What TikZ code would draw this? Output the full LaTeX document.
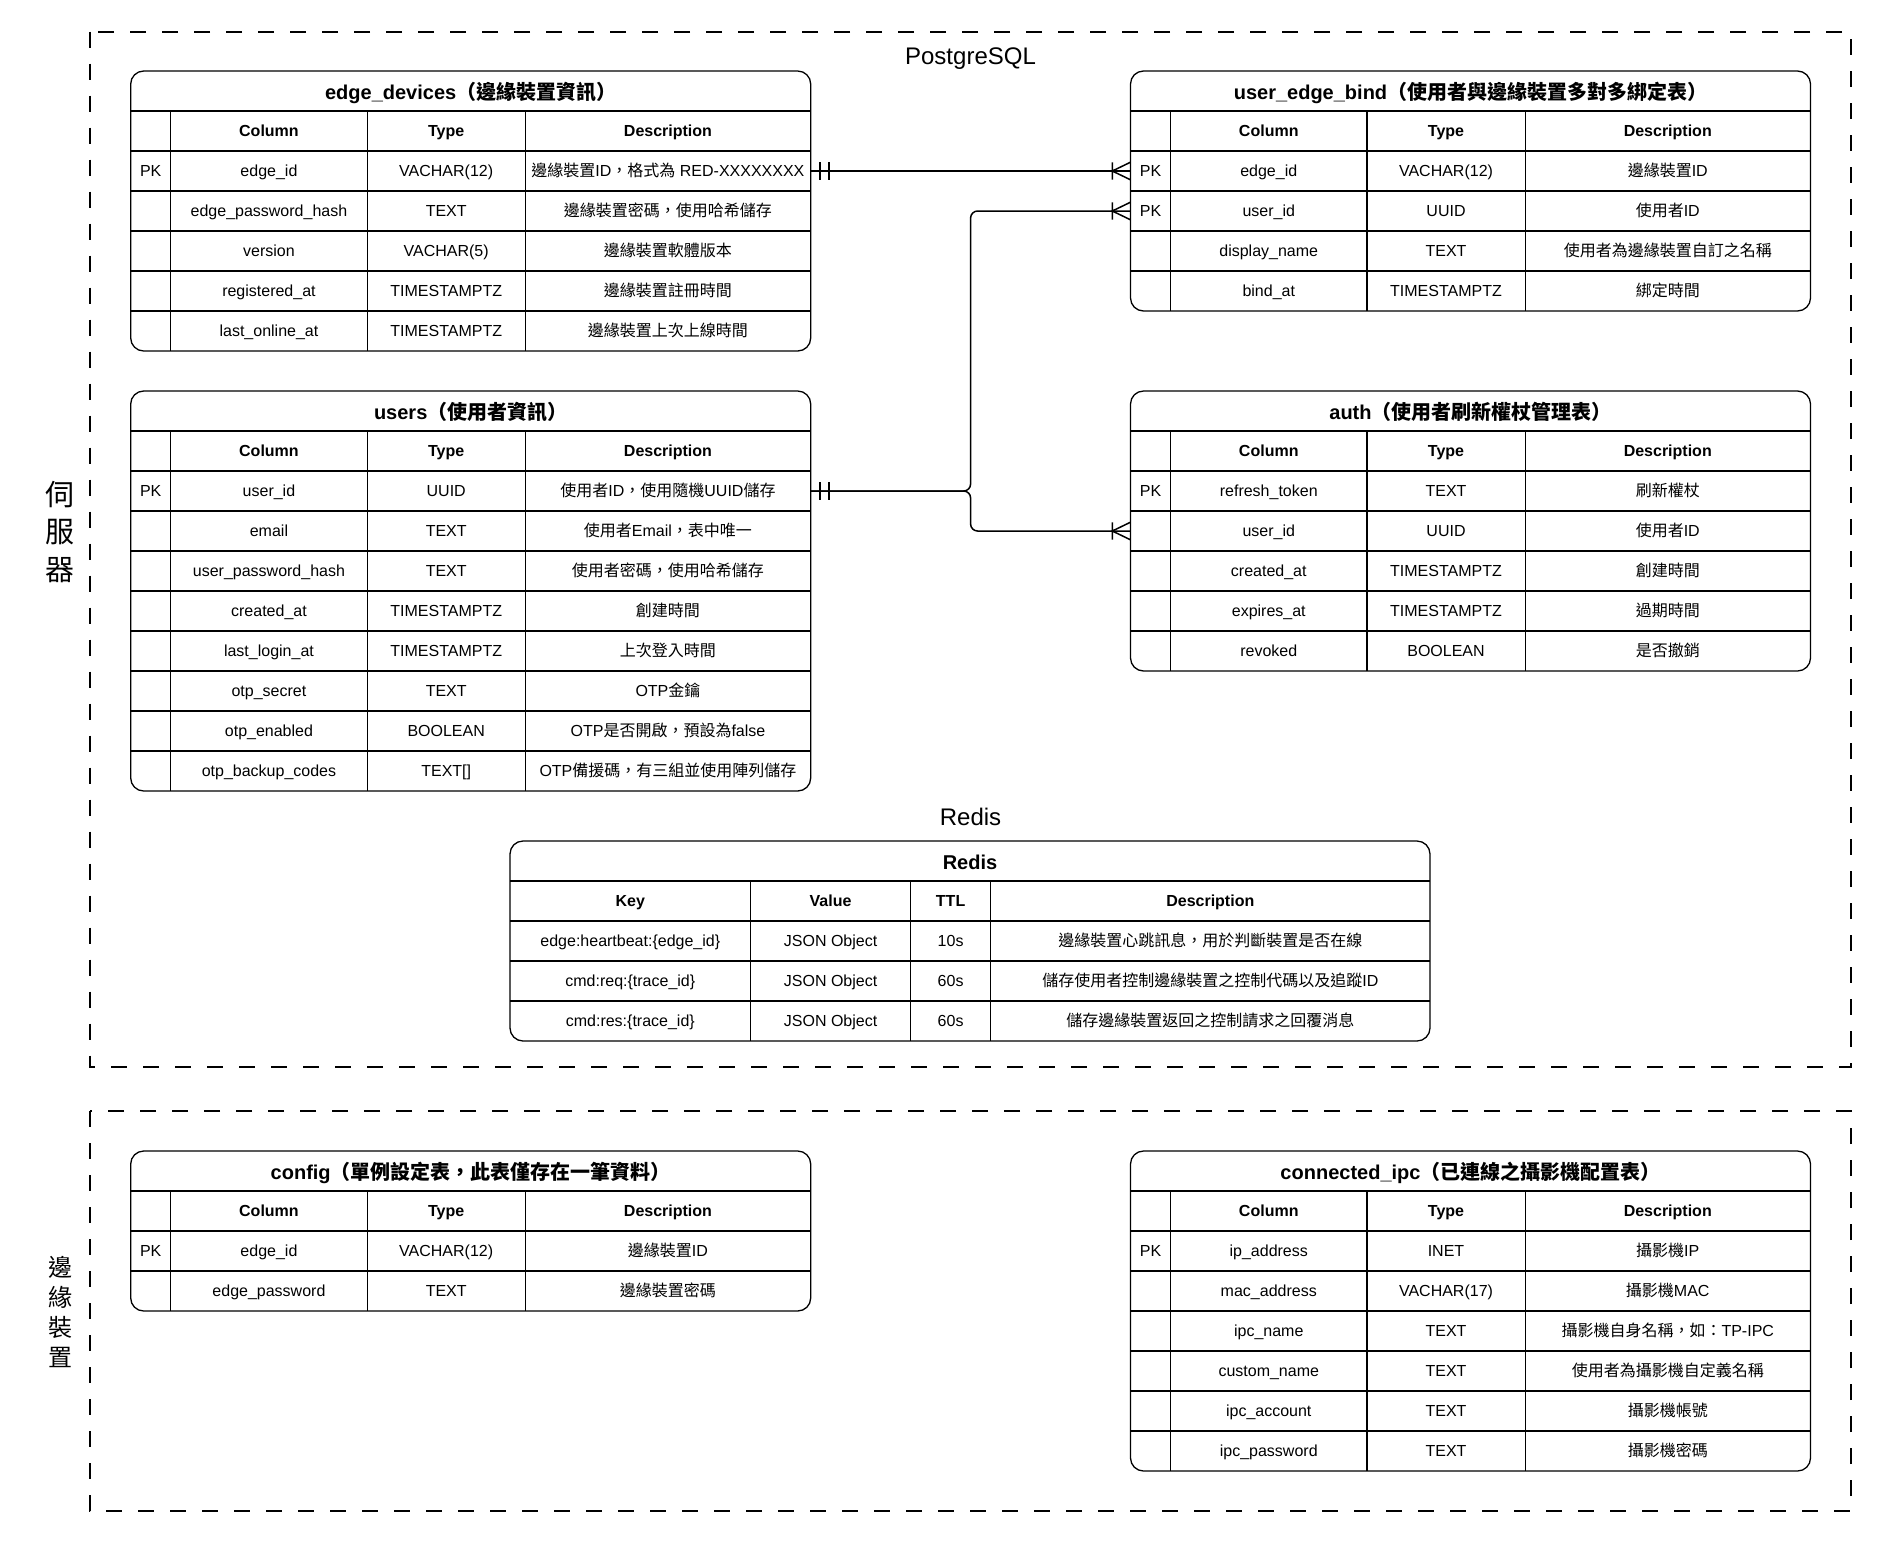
\documentclass[tikz,border=0pt]{standalone}
\usepackage{fontspec}
\setmainfont{Liberation Sans}
\newfontfamily\cjkfont{Noto Sans CJK TC}
\usetikzlibrary{calc}

% switch to the CJK font for CJK characters
\XeTeXinterchartokenstate=1
\newXeTeXintercharclass\cjkclass
\newcount\cjkcode
\newcommand\setcjkrange[2]{%
  \cjkcode=#1\relax
  \loop
    \XeTeXcharclass\cjkcode=\cjkclass
    \advance\cjkcode by 1\relax
  \ifnum\cjkcode<#2\relax\repeat}
\setcjkrange{"3000}{"3040}
\setcjkrange{"4E00}{"A000}
\setcjkrange{"FF00}{"FFF0}
\XeTeXinterchartoks 0 \cjkclass = {\begingroup\cjkfont}
\XeTeXinterchartoks 4095 \cjkclass = {\begingroup\cjkfont}
\XeTeXinterchartoks \cjkclass 0 = {\endgroup}
\XeTeXinterchartoks \cjkclass 4095 = {\endgroup}

\tikzset{
  zone/.style     = {draw, line width=2pt, dash pattern=on 16pt off 16pt},
  tbl/.style      = {draw, line width=1.3pt, rounded corners=13pt},
  rowline/.style  = {line width=1.3pt},
  colline/.style  = {line width=0.8pt},
  cell/.style     = {inner sep=0pt, minimum height=40pt, text height=13.5pt, text depth=3pt,
                     font=\fontsize{16}{19}\selectfont},
  head/.style     = {cell, font=\fontsize{16}{19}\selectfont\bfseries},
  ttl/.style      = {inner sep=0pt, text height=17pt, text depth=4pt,
                     font=\fontsize{20}{24}\selectfont\bfseries},
  lbl/.style      = {inner sep=0pt, text height=18pt, text depth=5pt, font=\fontsize{24}{28}\selectfont},
  sidelbl/.style  = {inner sep=0pt, font=\fontsize{29}{34}\selectfont},
  sidelbls/.style = {inner sep=0pt, font=\fontsize{24}{28}\selectfont},
  rel/.style      = {line width=1.5pt}
}

% #1 name, #2 left, #3 top, #4 number of rows, #5 title, #6 rows
\newcommand{\ertable}[6]{%
  \def\tx{#2}\def\ty{#3}%
  \node[ttl] (#1-title) at (\tx+340,\ty+22) {#5};
  \node[head, minimum width=196.5] (#1-h-col) at (\tx+138.25,\ty+60) {Column};
  \node[head, minimum width=158] (#1-h-type) at (\tx+315.5,\ty+60) {Type};
  \node[head, minimum width=285.5] (#1-h-desc) at (\tx+537.25,\ty+60) {Description};
  \foreach \pk/\col/\typ/\desc [count=\i] in {#6} {
    \node[cell, minimum width=40] (#1-\i-pk) at (\tx+20,\ty+60+40*\i) {\pk};
    \node[cell, minimum width=196.5] (#1-\i-col) at (\tx+138.25,\ty+60+40*\i) {\col};
    \node[cell, minimum width=158] (#1-\i-type) at (\tx+315.5,\ty+60+40*\i) {\typ};
    \node[cell, minimum width=285.5] (#1-\i-desc) at (\tx+537.25,\ty+60+40*\i) {\desc};
    \draw[rowline] (\tx,\ty+40+40*\i) -- ++(680,0);
  }
  \draw[rowline] (\tx,\ty+40) -- ++(680,0);
  \draw[rowline] (\tx+40,\ty+40) -- ++(0,40+40*#4);
  \draw[rowline] (\tx+236.5,\ty+40) -- ++(0,40+40*#4);
  \draw[colline] (\tx+394.5,\ty+40) -- ++(0,40+40*#4);
  \draw[tbl] (\tx,\ty) rectangle ++(680,80+40*#4);
}

\begin{document}
\begin{tikzpicture}[x=1pt, y=-1pt]
\useasboundingbox (0,0) rectangle (1882,1543);

% Zones
\draw[zone] (90,31.7) rectangle (1851,1066.7);
\draw[zone] (90,1111) rectangle (1851,1511);
\foreach \ch [count=\i] in {伺,服,器}
  \node[sidelbl] (srv-\i) at (60,457.5+37.5*\i) {\ch};
\foreach \ch [count=\i] in {邊,緣,裝,置}
  \node[sidelbls] (edg-\i) at (60,1237+30*\i) {\ch};
\node[lbl] (pg) at (970.5,58) {PostgreSQL};
\node[lbl] (rd) at (970.5,819) {Redis};

% PostgreSQL tables
\ertable{ed}{130.7}{71}{5}{edge\_devices（邊緣裝置資訊）}{
  PK/edge\_id/VACHAR(12)/邊緣裝置ID，格式為 RED-XXXXXXXX,
  /edge\_password\_hash/TEXT/邊緣裝置密碼，使用哈希儲存,
  /version/VACHAR(5)/邊緣裝置軟體版本,
  /registered\_at/TIMESTAMPTZ/邊緣裝置註冊時間,
  /last\_online\_at/TIMESTAMPTZ/邊緣裝置上次上線時間}
\ertable{us}{130.7}{391}{8}{users（使用者資訊）}{
  PK/user\_id/UUID/使用者ID，使用隨機UUID儲存,
  /email/TEXT/使用者Email，表中唯一,
  /user\_password\_hash/TEXT/使用者密碼，使用哈希儲存,
  /created\_at/TIMESTAMPTZ/創建時間,
  /last\_login\_at/TIMESTAMPTZ/上次登入時間,
  /otp\_secret/TEXT/OTP金鑰,
  /otp\_enabled/BOOLEAN/OTP是否開啟，預設為false,
  /otp\_backup\_codes/TEXT[]/OTP備援碼，有三組並使用陣列儲存}
\ertable{ueb}{1130.5}{71}{4}{user\_edge\_bind（使用者與邊緣裝置多對多綁定表）}{
  PK/edge\_id/VACHAR(12)/邊緣裝置ID,
  PK/user\_id/UUID/使用者ID,
  /display\_name/TEXT/使用者為邊緣裝置自訂之名稱,
  /bind\_at/TIMESTAMPTZ/綁定時間}
\ertable{auth}{1130.5}{391}{5}{auth（使用者刷新權杖管理表）}{
  PK/refresh\_token/TEXT/刷新權杖,
  /user\_id/UUID/使用者ID,
  /created\_at/TIMESTAMPTZ/創建時間,
  /expires\_at/TIMESTAMPTZ/過期時間,
  /revoked/BOOLEAN/是否撤銷}

% Redis table
\node[ttl] (rd-title) at (970,863) {Redis};
\node[head, minimum width=240.6] (rd-h-key) at (630.3,901) {Key};
\node[head, minimum width=160] (rd-h-val) at (830.6,901) {Value};
\node[head, minimum width=80] (rd-h-ttl) at (950.6,901) {TTL};
\node[head, minimum width=439.4] (rd-h-desc) at (1210.3,901) {Description};
\foreach \rkey/\rval/\rttl/\rdesc [count=\i] in {
  edge:heartbeat:\{edge\_id\}/JSON Object/10s/邊緣裝置心跳訊息，用於判斷裝置是否在線,
  cmd:req:\{trace\_id\}/JSON Object/60s/儲存使用者控制邊緣裝置之控制代碼以及追蹤ID,
  cmd:res:\{trace\_id\}/JSON Object/60s/儲存邊緣裝置返回之控制請求之回覆消息} {
  \node[cell, minimum width=240.6] (rd-\i-key) at (630.3,901+40*\i) {\rkey};
  \node[cell, minimum width=160] (rd-\i-val) at (830.6,901+40*\i) {\rval};
  \node[cell, minimum width=80] (rd-\i-ttl) at (950.6,901+40*\i) {\rttl};
  \node[cell, minimum width=439.4] (rd-\i-desc) at (1210.3,901+40*\i) {\rdesc};
  \draw[rowline] (510,881+40*\i) -- ++(920,0);
}
\draw[rowline] (510,881) -- ++(920,0);
\draw[rowline] (750.6,881) -- ++(0,160);
\draw[rowline] (910.6,881) -- ++(0,160);
\draw[colline] (990.6,881) -- ++(0,160);
\draw[tbl] (510,841) rectangle (1430,1041);

% Edge device tables
\ertable{cfg}{130.7}{1151}{2}{config（單例設定表，此表僅存在一筆資料）}{
  PK/edge\_id/VACHAR(12)/邊緣裝置ID,
  /edge\_password/TEXT/邊緣裝置密碼}
\ertable{ipc}{1130.5}{1151}{6}{connected\_ipc（已連線之攝影機配置表）}{
  PK/ip\_address/INET/攝影機IP,
  /mac\_address/VACHAR(17)/攝影機MAC,
  /ipc\_name/TEXT/攝影機自身名稱，如：TP-IPC,
  /custom\_name/TEXT/使用者為攝影機自定義名稱,
  /ipc\_account/TEXT/攝影機帳號,
  /ipc\_password/TEXT/攝影機密碼}

% Relations
\coordinate (trunk) at ($(us-1-desc.east)!0.5!(auth-2-pk.west)$);
\draw[rel] (ed-1-desc.east) -- (ueb-1-pk.west);
\draw[rel, rounded corners=7pt] (us-1-desc.east) -| (trunk |- ueb-2-pk.west) -- (ueb-2-pk.west);
\draw[rel, rounded corners=7pt] (us-1-desc.east) -| (trunk |- auth-2-pk.west) -- (auth-2-pk.west);

% one marks
\draw[rel] ([xshift=9pt]ed-1-desc.east) +(0,-8.7) -- +(0,8.7)
  ([xshift=18pt]ed-1-desc.east) +(0,-8.7) -- +(0,8.7);
\draw[rel] ([xshift=9pt]us-1-desc.east) +(0,-8.7) -- +(0,8.7)
  ([xshift=18pt]us-1-desc.east) +(0,-8.7) -- +(0,8.7);

% many marks
\draw[rel] ([xshift=-18pt]ueb-1-pk.west) +(0,-8.7) -- +(0,8.7)
  (ueb-1-pk.west) +(0,-8.7) -- ([xshift=-18pt]ueb-1-pk.west) -- +(18,8.7);
\draw[rel] ([xshift=-18pt]ueb-2-pk.west) +(0,-8.7) -- +(0,8.7)
  (ueb-2-pk.west) +(0,-8.7) -- ([xshift=-18pt]ueb-2-pk.west) -- +(18,8.7);
\draw[rel] ([xshift=-18pt]auth-2-pk.west) +(0,-8.7) -- +(0,8.7)
  (auth-2-pk.west) +(0,-8.7) -- ([xshift=-18pt]auth-2-pk.west) -- +(18,8.7);

\end{tikzpicture}
\end{document}
